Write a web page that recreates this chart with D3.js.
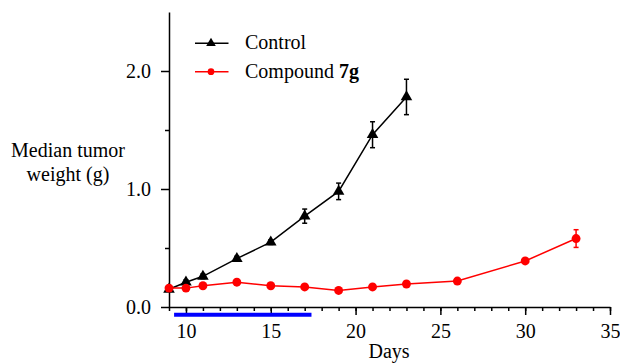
<!DOCTYPE html>
<html>
<head>
<meta charset="utf-8">
<script src="https://cdn.jsdelivr.net/npm/d3@7"></script>
<style>
  body { margin: 0; background: #fff; }
  .axis path, .axis line { stroke: #000; stroke-width: 1.5; }
</style>
</head>
<body>
<svg id="chart" width="620" height="363"></svg>
<script>
// Control group
var controlDays = [9, 10, 11, 13, 15, 17, 19, 21, 23];
var controlWeight = [0.15, 0.21, 0.26, 0.41, 0.55, 0.77, 0.98, 1.46, 1.78];
var controlErr = [0, 0.02, 0.02, 0.02, 0.02, 0.06, 0.07, 0.11, 0.15];

// Compound 7g group
var compoundDays = [9, 10, 11, 13, 15, 17, 19, 21, 23, 26, 30, 33];
var compoundWeight = [0.16, 0.16, 0.18, 0.21, 0.18, 0.17, 0.14, 0.17, 0.195, 0.22, 0.39, 0.58];
var compoundErr = [0, 0, 0, 0, 0, 0, 0, 0, 0, 0, 0, 0.075];

// dosing period
var dosingPeriod = [9.3, 17.4];

var xMajorTicks = [10, 15, 20, 25, 30, 35];
var yMajorTicks = [0, 1, 2];
var yMinorTicks = [0.5, 1.5];

var serif = "'Liberation Serif', 'Times New Roman', 'DejaVu Serif', serif";

var svg = d3.select("#chart");

var x = d3.scaleLinear().domain([9, 35]).range([169, 610]);
var y = d3.scaleLinear().domain([0, 2.5]).range([307, 12]);

function styleAxis(g) {
	g.attr("font-family", serif).attr("font-size", 20);
	g.selectAll("text").attr("fill", "#000");
}

// x axis: minor ticks every day, then labelled majors
svg.append("g")
	.attr("class", "x axis")
	.attr("transform", "translate(0," + y(0) + ")")
	.call(d3.axisBottom(x).tickValues(d3.range(9, 36)).tickSize(4).tickSizeOuter(0).tickFormat(""));

svg.append("g")
	.attr("class", "x axis")
	.attr("transform", "translate(0," + y(0) + ")")
	.call(d3.axisBottom(x).tickValues(xMajorTicks).tickSize(8).tickSizeOuter(0).tickPadding(9))
	.call(function(g) { g.select(".domain").remove(); })
	.call(styleAxis);

// y axis
svg.append("g")
	.attr("class", "y axis")
	.attr("transform", "translate(" + x(9) + ",0)")
	.call(d3.axisLeft(y).tickValues(yMinorTicks).tickSize(4).tickSizeOuter(0).tickFormat(""));

svg.append("g")
	.attr("class", "y axis")
	.attr("transform", "translate(" + x(9) + ",0)")
	.call(d3.axisLeft(y).tickValues(yMajorTicks).tickSize(8).tickSizeOuter(0).tickPadding(10).tickFormat(d3.format(".1f")))
	.call(function(g) { g.select(".domain").remove(); })
	.call(styleAxis);

// axis titles
svg.append("text")
	.attr("x", 389)
	.attr("y", 358)
	.attr("text-anchor", "middle")
	.attr("font-family", serif)
	.attr("font-size", 20)
	.text("Days");

var yTitle = svg.append("text")
	.attr("text-anchor", "middle")
	.attr("font-family", serif)
	.attr("font-size", 20);
yTitle.append("tspan").attr("x", 68).attr("y", 157).text("Median tumor");
yTitle.append("tspan").attr("x", 68).attr("y", 181).text("weight (g)");

// dosing bar
svg.append("line")
	.attr("x1", x(dosingPeriod[0]))
	.attr("x2", x(dosingPeriod[1]))
	.attr("y1", 314.7)
	.attr("y2", 314.7)
	.attr("stroke", "#0000ff")
	.attr("stroke-width", 4);

function series(days, vals, errs, color, marker) {
	var pts = days.map(function(d, i) { return { day: d, v: vals[i], e: errs[i] }; });
	var g = svg.append("g");

	g.append("path")
		.datum(pts)
		.attr("fill", "none")
		.attr("stroke", color)
		.attr("stroke-width", 1.5)
		.attr("d", d3.line().x(function(d) { return x(d.day); }).y(function(d) { return y(d.v); }));

	var eb = g.selectAll(".err")
		.data(pts.filter(function(d) { return d.e > 0; }))
		.enter().append("g")
		.attr("stroke", color)
		.attr("stroke-width", 1.5);
	eb.append("line")
		.attr("x1", function(d) { return x(d.day); })
		.attr("x2", function(d) { return x(d.day); })
		.attr("y1", function(d) { return y(d.v - d.e); })
		.attr("y2", function(d) { return y(d.v + d.e); });
	[1, -1].forEach(function(s) {
		eb.append("line")
			.attr("x1", function(d) { return x(d.day) - 2.5; })
			.attr("x2", function(d) { return x(d.day) + 2.5; })
			.attr("y1", function(d) { return y(d.v + s * d.e); })
			.attr("y2", function(d) { return y(d.v + s * d.e); });
	});

	g.selectAll(".mark")
		.data(pts)
		.enter().append("path")
		.attr("transform", function(d) { return "translate(" + x(d.day) + "," + y(d.v) + ")"; })
		.attr("d", marker)
		.attr("fill", color);
}

var triangle = d3.symbol().type(d3.symbolTriangle).size(58)();
var circle = d3.symbol().type(d3.symbolCircle).size(62)();

series(controlDays, controlWeight, controlErr, "#000", triangle);
series(compoundDays, compoundWeight, compoundErr, "#ff0000", circle);

// legend
var legend = [
	{ y: 43.3, color: "#000", marker: d3.symbol().type(d3.symbolTriangle).size(40)() },
	{ y: 71.7, color: "#ff0000", marker: d3.symbol().type(d3.symbolCircle).size(35)() }
];
legend.forEach(function(l) {
	svg.append("line")
		.attr("x1", 195).attr("x2", 228.5)
		.attr("y1", l.y).attr("y2", l.y)
		.attr("stroke", l.color).attr("stroke-width", 1.5);
	svg.append("path")
		.attr("transform", "translate(211," + l.y + ")")
		.attr("d", l.marker)
		.attr("fill", l.color);
});
svg.append("text")
	.attr("x", 245).attr("y", 49)
	.attr("font-family", serif)
	.attr("font-size", 20)
	.text("Control");
var t2 = svg.append("text")
	.attr("x", 245).attr("y", 77.5)
	.attr("font-family", serif)
	.attr("font-size", 20);
t2.append("tspan").text("Compound ");
t2.append("tspan").attr("font-weight", "bold").text("7g");
</script>
</body>
</html>
